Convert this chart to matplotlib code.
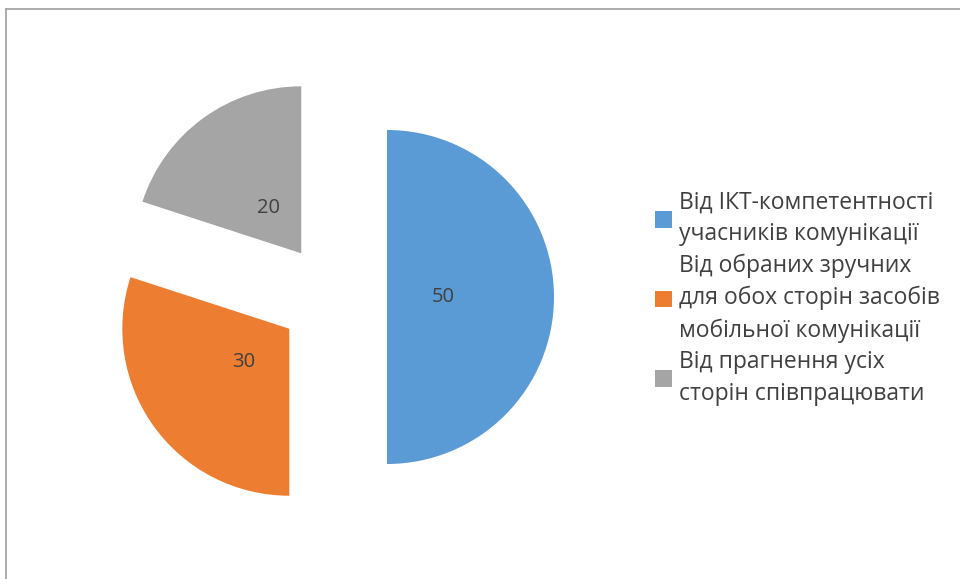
import matplotlib
matplotlib.use("Agg")
import matplotlib.pyplot as plt
from matplotlib.lines import Line2D

plt.rcParams['font.family'] = ['Open Sans', 'DejaVu Sans']

categories = [
    "Від ІКТ-компетентності\nучасників комунікації",
    "Від обраних зручних\nдля обох сторін засобів\nмобільної комунікації",
    "Від прагнення усіх\nсторін співпрацювати",
]
values = [50, 30, 20]
colors = ["#5B9BD5", "#ED7D31", "#A5A5A5"]

W, H = 960, 579
fig = plt.figure(figsize=(W / 100, H / 100), dpi=100)
ax = fig.add_axes([0, 0, 1, 1])

R = 167.0          # pie radius in pixels
cx, cy = 333.0, 297.0  # pie centre in pixels (from top)
total = sum(values)

wedges, texts, autotexts = ax.pie(
    values,
    colors=colors,
    startangle=90,
    counterclock=False,
    explode=[54 / R] * len(values),
    radius=1.0,
    autopct=lambda p: f"{p * total / 100:.0f}",
    pctdistance=0.335,
    textprops=dict(color="#404040", fontsize=14.5),
    wedgeprops=dict(linewidth=0),
)
ax.set_xlim(-cx / R, (W - cx) / R)
ax.set_ylim(-(H - cy) / R, cy / R)
ax.set_aspect('auto')
ax.axis('off')

leg = ax.legend(
    wedges, categories,
    loc='center left',
    bbox_to_anchor=(655 / W, 1 - 298 / H),
    bbox_transform=fig.transFigure,
    frameon=False,
    fontsize=16.5,
    handlelength=0.75,
    handleheight=0.75,
    handletextpad=0.3,
    labelspacing=0.3,
    borderpad=0,
    borderaxespad=0,
)
for t in leg.get_texts():
    t.set_color("#404040")
    t.set_linespacing(1.45)

# chart area frame (top and left visible)
fig.add_artist(Line2D([6 / W, 6 / W], [0, 1 - 9 / H], transform=fig.transFigure,
                      color="#A6A6A6", lw=1.3))
fig.add_artist(Line2D([6 / W, 1], [1 - 9 / H, 1 - 9 / H], transform=fig.transFigure,
                      color="#A6A6A6", lw=1.3))

fig.savefig("out.png", dpi=100)
